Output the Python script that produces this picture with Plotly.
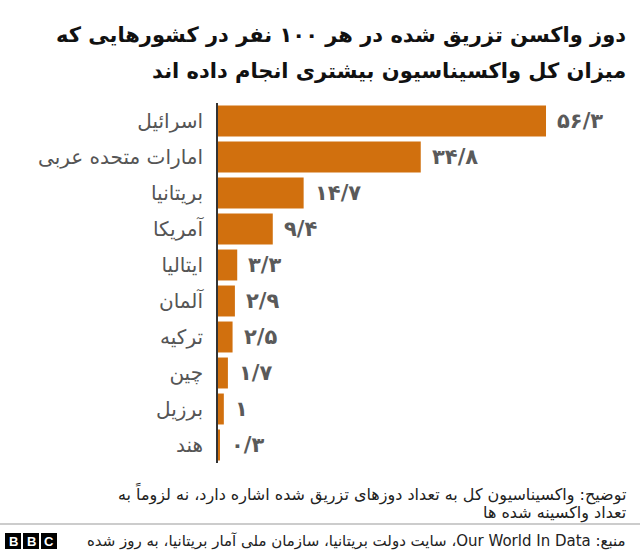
import plotly.graph_objects as go

countries = ["اسرائیل", "امارات متحده عربی", "بریتانیا", "آمریکا", "ایتالیا",
             "آلمان", "ترکیه", "چین", "برزیل", "هند"]
values = [56.3, 34.8, 14.7, 9.4, 3.3, 2.9, 2.5, 1.7, 1.0, 0.3]
value_labels = ["۵۶/۳", "۳۴/۸", "۱۴/۷", "۹/۴", "۳/۳", "۲/۹", "۲/۵", "۱/۷", "۱", "۰/۳"]

title_lines = ["دوز واکسن تزریق شده در هر ۱۰۰ نفر در کشورهایی که",
               "میزان کل واکسیناسیون بیشتری انجام داده اند"]
note_lines = ["توضیح: واکسیناسیون کل به تعداد دوزهای تزریق شده اشاره دارد، نه لزوماً به",
              "تعداد واکسینه شده ها"]
source_text = "منبع: Our World In Data، سایت دولت بریتانیا، سازمان ملی آمار بریتانیا، به روز شده"

W, H = 640, 552
ML, MR, MT, MB = 218, 20, 103, 89
PW, PH = W - ML - MR, H - MT - MB

def px(x):
    return (x - ML) / PW

def py(y):
    return (H - MB - y) / PH

RLE, PDF = "\u202b", "\u202c"
FONT = "DejaVu Sans"
BAR = "#d1700e"

fig = go.Figure(go.Bar(
    x=values, y=countries, orientation="h",
    marker=dict(color=BAR, line=dict(width=0)),
    hoverinfo="skip",
))

annotations = []
for c, v, t in zip(countries, values, value_labels):
    annotations.append(dict(x=v, y=c, xref="x", yref="y", text="<b>" + t + "</b>", showarrow=False,
                            xanchor="left", yanchor="middle", xshift=9,
                            font=dict(family=FONT, size=21, color="#5a5a5a")))

annotations += [
    dict(x=px(628), y=py(35), xref="paper", yref="paper", text="<b>" + RLE + title_lines[0] + PDF + "</b>",
         showarrow=False, xanchor="right", yanchor="middle",
         font=dict(family=FONT, size=21, color="#111111")),
    dict(x=px(628), y=py(71), xref="paper", yref="paper", text="<b>" + RLE + title_lines[1] + PDF + "</b>",
         showarrow=False, xanchor="right", yanchor="middle",
         font=dict(family=FONT, size=21, color="#111111")),
    dict(x=px(628), y=py(493), xref="paper", yref="paper", text=RLE + note_lines[0] + PDF,
         showarrow=False, xanchor="right", yanchor="middle",
         font=dict(family=FONT, size=16, color="#222222")),
    dict(x=px(628), y=py(513), xref="paper", yref="paper", text=RLE + note_lines[1] + PDF,
         showarrow=False, xanchor="right", yanchor="middle",
         font=dict(family=FONT, size=16, color="#222222")),
    dict(x=px(628), y=py(541), xref="paper", yref="paper", text=RLE + source_text + PDF,
         showarrow=False, xanchor="right", yanchor="middle",
         font=dict(family=FONT, size=15, color="#222222")),
]

shapes = [
    dict(type="line", xref="paper", yref="paper", x0=px(0), x1=px(640), y0=py(524), y1=py(524),
         line=dict(color="#999999", width=1)),
]
for i, letter in enumerate(["B", "B", "C"]):
    x0 = 5 + i * 18
    shapes.append(dict(type="rect", xref="paper", yref="paper", x0=px(x0), x1=px(x0 + 16),
                       y0=py(549), y1=py(533), fillcolor="#000000", line=dict(width=0)))
    annotations.append(dict(x=px(x0 + 8), y=py(541), xref="paper", yref="paper", text="<b>" + letter + "</b>",
                            showarrow=False, xanchor="center", yanchor="middle",
                            font=dict(family="Liberation Sans", size=13, color="#ffffff")))

fig.update_layout(
    width=W, height=H,
    margin=dict(l=ML, r=MR, t=MT, b=MB, autoexpand=False),
    paper_bgcolor="white", plot_bgcolor="white",
    bargap=0.14,
    showlegend=False,
    xaxis=dict(range=[0, 69], visible=False, fixedrange=True),
    yaxis=dict(categoryorder="array", categoryarray=countries, autorange="reversed",
               showline=True, linecolor="#333333", linewidth=2, showgrid=False,
               ticks="", ticklabelstandoff=9,
               tickfont=dict(family=FONT, size=20, color="#555555"), fixedrange=True),
    annotations=annotations,
    shapes=shapes,
)

fig.write_html("out.html")
